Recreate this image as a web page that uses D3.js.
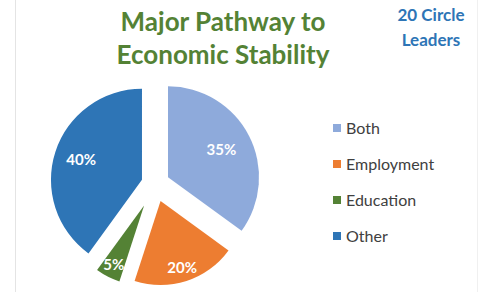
<!DOCTYPE html>
<meta charset="utf-8">
<style>
body { margin: 0; background: #fff; }
svg { display: block; }
.title { font-family: Lato, "Open Sans", sans-serif; font-weight: bold; fill: #548235; }
.note { font-family: Lato, "Open Sans", sans-serif; font-weight: bold; fill: #2e75b6; }
.pct { font-family: Lato, "Open Sans", sans-serif; font-weight: bold; fill: #fff; font-size: 15px; }
.legend text { font-family: Lato, "Open Sans", sans-serif; fill: #404040; font-size: 16px; }
</style>
<body>
<script src="https://d3js.org/d3.v7.min.js"></script>
<script>

// chart data
var categories = ["Both", "Employment", "Education", "Other"];
var shares = [35, 20, 5, 40];
var titleLines = ["Major Pathway to", "Economic Stability"];
var noteLines = ["20 Circle", "Leaders"];

// slice styling (explode distance, radius, label distance from apex)
var colors = ["#8eaadb", "#ed7d31", "#548235", "#2e75b6"];
var explode = [14.6, 18, 24, 13.7];
var radius = [91, 84, 80, 91];
var labelDist = [60, 70, 67, 64];

var width = 482, height = 292;
var cx = 155, cy = 184;

var svg = d3.select("body").append("svg")
    .attr("width", width)
    .attr("height", height);

// faint frame lines
svg.append("line").attr("x1", 15.5).attr("x2", 15.5).attr("y1", 0).attr("y2", height)
    .attr("stroke", "#e4e4e4").attr("stroke-width", 1);
svg.append("line").attr("x1", 477.5).attr("x2", 477.5).attr("y1", 0).attr("y2", height)
    .attr("stroke", "#f0f0f0").attr("stroke-width", 1);

// title
svg.append("text").attr("class", "title")
    .attr("text-anchor", "middle")
    .style("font-size", "26px")
  .selectAll("tspan").data(titleLines).enter().append("tspan")
    .attr("x", 223)
    .attr("y", function(d, i) { return 31 + i * 33; })
    .text(function(d) { return d; });

svg.append("text").attr("class", "note")
    .attr("text-anchor", "middle")
    .style("font-size", "17px")
  .selectAll("tspan").data(noteLines).enter().append("tspan")
    .attr("x", 431)
    .attr("y", function(d, i) { return 21 + i * 25; })
    .text(function(d) { return d; });

// pie
var data = categories.map(function(c, i) { return {name: c, value: shares[i], i: i}; });
var pie = d3.pie().sort(null).value(function(d) { return d.value; });
var arcs = pie(data);

var slices = svg.append("g").attr("transform", "translate(" + cx + "," + cy + ")")
  .selectAll("g").data(arcs).enter().append("g")
    .attr("transform", function(d) {
      var m = (d.startAngle + d.endAngle) / 2, e = explode[d.data.i];
      return "translate(" + (Math.sin(m) * e) + "," + (-Math.cos(m) * e) + ")";
    });

slices.append("path")
    .attr("fill", function(d) { return colors[d.data.i]; })
    .attr("d", function(d) {
      return d3.arc().innerRadius(0).outerRadius(radius[d.data.i])(d);
    });

slices.append("text").attr("class", "pct")
    .attr("text-anchor", "middle")
    .attr("dy", "0.35em")
    .attr("x", function(d) { var m = (d.startAngle + d.endAngle) / 2; return Math.sin(m) * labelDist[d.data.i]; })
    .attr("y", function(d) { var m = (d.startAngle + d.endAngle) / 2; return -Math.cos(m) * labelDist[d.data.i]; })
    .text(function(d) { return d.data.value + "%"; });

// legend
var legend = svg.append("g").attr("class", "legend")
  .selectAll("g").data(data).enter().append("g")
    .attr("transform", function(d, i) { return "translate(333," + (128 + i * 36) + ")"; });

legend.append("rect")
    .attr("x", 0).attr("y", -4)
    .attr("width", 8).attr("height", 8)
    .attr("fill", function(d) { return colors[d.i]; });

legend.append("text")
    .attr("x", 13).attr("dy", "0.35em")
    .text(function(d) { return d.name; });

</script>
</body>
